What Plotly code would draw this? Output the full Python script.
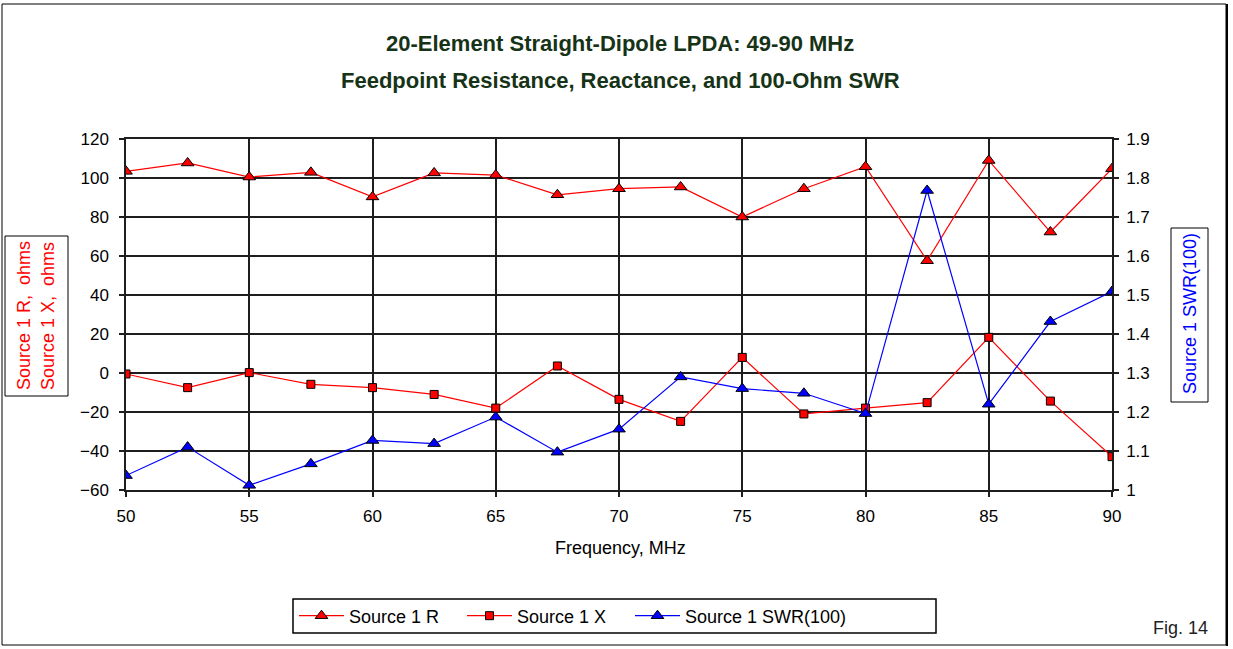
import plotly.graph_objects as go

freq = [50, 52.5, 55, 57.5, 60, 62.5, 65, 67.5, 70, 72.5, 75, 77.5, 80, 82.5, 85, 87.5, 90]
source_r = [103.4, 107.7, 100.5, 102.9, 90.3, 102.6, 101.5, 91.4, 94.5, 95.4, 80.0, 94.5, 105.8, 57.6, 109.0, 72.3, 104.8]
source_x = [-0.5, -7.5, 0.2, -5.8, -7.5, -11.0, -18.0, 3.6, -13.5, -24.8, 8.0, -21.0, -18.0, -15.2, 18.3, -14.4, -42.9]
swr = [1.037, 1.110, 1.012, 1.067, 1.127, 1.119, 1.187, 1.097, 1.156, 1.290, 1.260, 1.248, 1.196, 1.768, 1.220, 1.432, 1.509]

W, H = 1233, 649
L, R, T, B = 126, 121, 139, 159
PW, PH = W - L - R, H - T - B

def px(x):
    return (x - L) / PW

def py(y):
    return (H - B - y) / PH

FONT = "Liberation Sans, Arial, sans-serif"

fig = go.Figure()
fig.add_trace(go.Scatter(
    x=freq, y=source_r, name="Source 1 R", mode="lines+markers",
    line=dict(color="#ff0000", width=1.2),
    marker=dict(symbol="triangle-up", size=11, color="#ff0000", line=dict(color="#000000", width=1)),
))
fig.add_trace(go.Scatter(
    x=freq, y=source_x, name="Source 1 X", mode="lines+markers",
    line=dict(color="#ff0000", width=1.2),
    marker=dict(symbol="square", size=8, color="#ff0000", line=dict(color="#000000", width=1)),
))
fig.add_trace(go.Scatter(
    x=freq, y=swr, name="Source 1 SWR(100)", mode="lines+markers", yaxis="y2",
    line=dict(color="#0000ff", width=1.2), legendwidth=175,
    marker=dict(symbol="triangle-up", size=11, color="#0000ff", line=dict(color="#000000", width=1)),
))

axis_common = dict(
    showgrid=True, gridcolor="#1e1e1e", gridwidth=1.5,
    showline=True, linecolor="#1e1e1e", linewidth=1.5,
    ticks="outside", ticklen=5, tickcolor="#1e1e1e", tickwidth=1.5,
    tickfont=dict(family=FONT, size=17, color="#000000"),
    zeroline=False,
)

fig.update_layout(
    width=W, height=H,
    margin=dict(l=L, r=R, t=T, b=B, autoexpand=False),
    paper_bgcolor="#ffffff", plot_bgcolor="#ffffff",
    showlegend=True,
    xaxis=dict(range=[50, 90], dtick=5, tick0=50, mirror=True, ticklabelstandoff=5, **axis_common),
    yaxis=dict(range=[-60, 120], dtick=20, tick0=-60, ticklabelstandoff=7, **axis_common),
    yaxis2=dict(range=[1.0, 1.9], dtick=0.1, tick0=1.0, overlaying="y", side="right",
                showgrid=False, showline=True, linecolor="#1e1e1e", linewidth=1.5,
                ticks="outside", ticklen=5, tickcolor="#1e1e1e", tickwidth=1.5, zeroline=False,
                ticklabelstandoff=4,
                tickfont=dict(family=FONT, size=17, color="#000000")),
    legend=dict(
        orientation="h", x=px(294), xanchor="left", y=py(616), yanchor="middle",
        borderwidth=0, bgcolor="rgba(0,0,0,0)",
        font=dict(family=FONT, size=18, color="#000000"),
        itemsizing="trace", itemwidth=45, entrywidth=108, entrywidthmode="pixels",
    ),
)

annos = [
    dict(text="<b>20-Element Straight-Dipole LPDA: 49-90 MHz</b>", x=px(620), y=py(43),
         font=dict(family=FONT, size=22, color="#173317")),
    dict(text="<b>Feedpoint Resistance, Reactance, and 100-Ohm SWR</b>", x=px(620), y=py(80),
         font=dict(family=FONT, size=22, color="#173317")),
    dict(text="Frequency, MHz", x=px(620), y=py(548),
         font=dict(family=FONT, size=18, color="#000000")),
    dict(text="Source 1 R,  ohms", x=px(24), y=py(316), textangle=-90,
         font=dict(family=FONT, size=18, color="#ff0000")),
    dict(text="Source 1 X,  ohms", x=px(48), y=py(316), textangle=-90,
         font=dict(family=FONT, size=18, color="#ff0000")),
    dict(text="Source 1 SWR(100)", x=px(1190), y=py(314), textangle=-90,
         font=dict(family=FONT, size=18, color="#0000ff")),
    dict(text="Fig. 14", x=px(1180), y=py(628),
         font=dict(family=FONT, size=18, color="#222222")),
]
for a in annos:
    fig.add_annotation(xref="paper", yref="paper", showarrow=False,
                       xanchor="center", yanchor="middle", **a)

shapes = [
    # outer frame
    dict(x0=px(2), x1=px(1226), y0=py(4), y1=py(645), line=dict(color="#000000", width=1)),
    # left axis title box
    dict(x0=px(5), x1=px(68), y0=py(236), y1=py(396), line=dict(color="#000000", width=1)),
    # right axis title box
    dict(x0=px(1171), x1=px(1208), y0=py(228), y1=py(402), line=dict(color="#000000", width=1)),
    # legend box
    dict(x0=px(293), x1=px(936), y0=py(599), y1=py(633), line=dict(color="#000000", width=1.5)),
]
for s in shapes:
    fig.add_shape(type="rect", xref="paper", yref="paper", layer="above", **s)
fig.add_shape(type="line", xref="paper", yref="paper", x0=px(1227), x1=px(1227), y0=py(4), y1=py(646),
              line=dict(color="#000000", width=2))

fig.write_html("out.html", config={"displayModeBar": False},
               post_script="document.body.style.margin='0px';")
